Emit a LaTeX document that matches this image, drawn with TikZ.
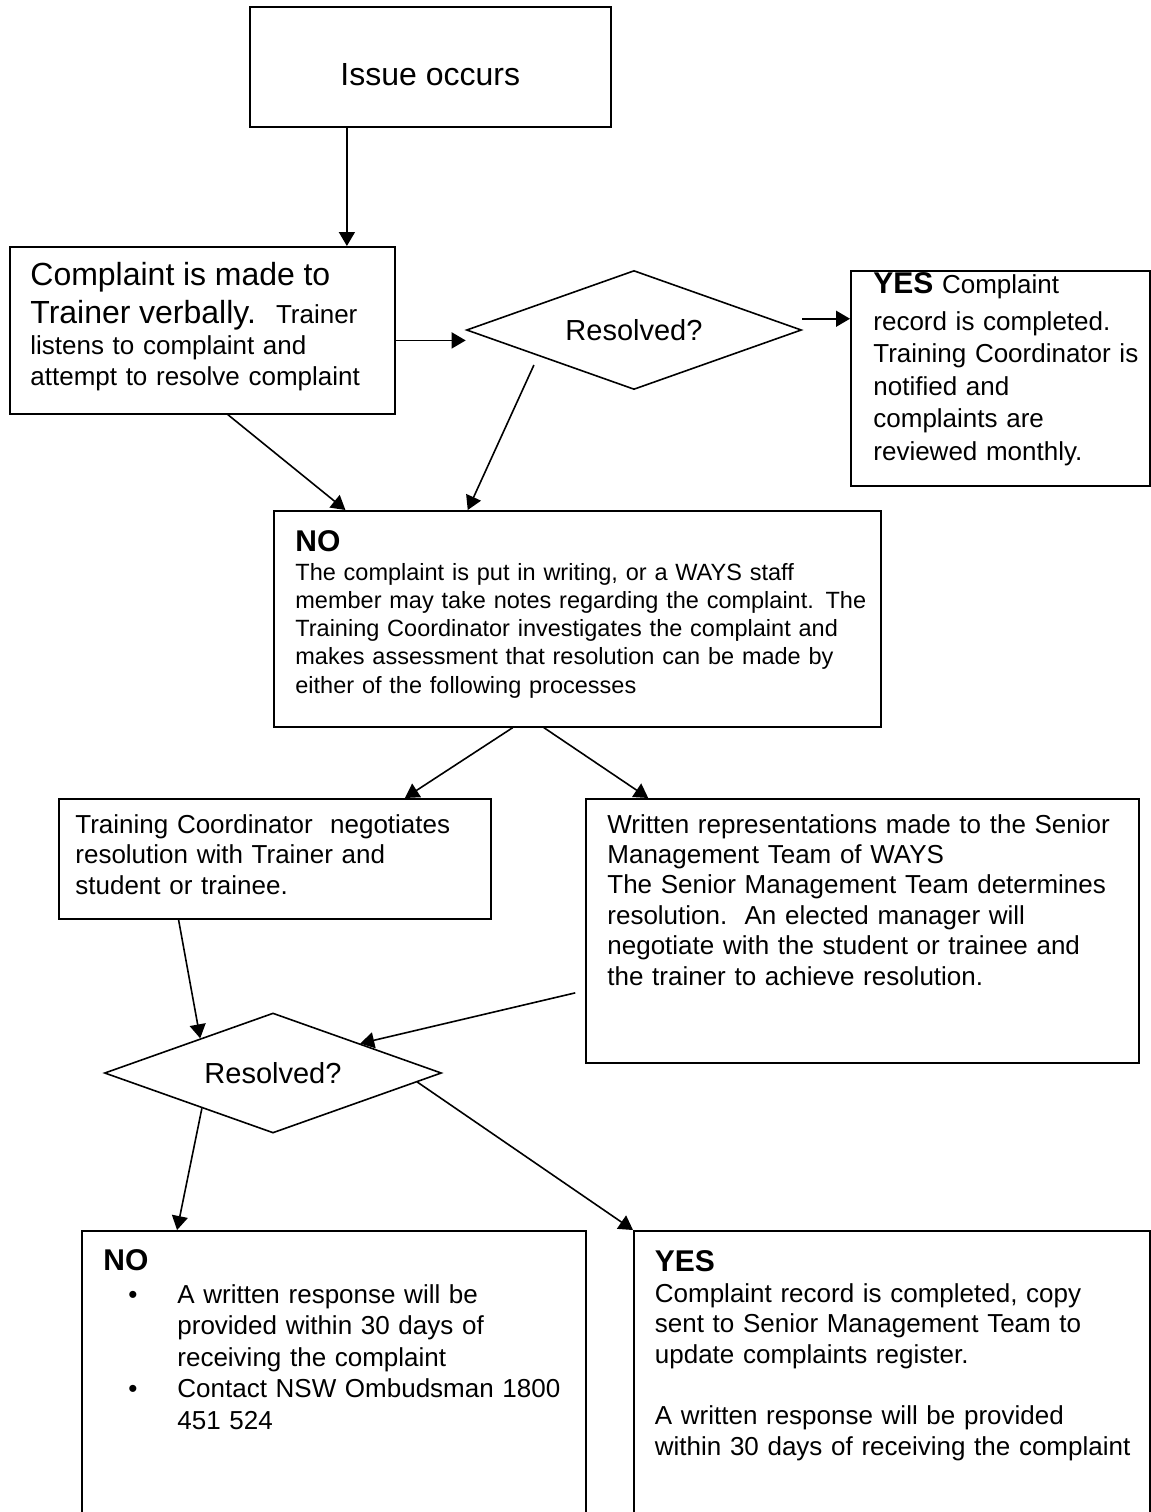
\documentclass[tikz,border=0pt]{standalone}
\usepackage{fontspec}
\setmainfont{Liberation Sans}
\usetikzlibrary{calc,shapes.geometric,arrows.meta}

\begin{document}
\begin{tikzpicture}[%
    x=0.5pt, y=-0.5pt,
    every node/.style={inner sep=0pt},
    box/.style={draw, line width=0.8pt, anchor=north west},
    choice/.style={draw, line width=0.8pt, diamond, aspect=2.8,
      font=\fontsize{14.5}{17}\selectfont},
    txt/.style={anchor=base west, align=left, text width=#1,
      font=\fontsize{13}{15.5}\selectfont},
    flow/.style={line width=0.8pt, -{Triangle[length=7pt,width=8pt]}}]
  \useasboundingbox (0,0) rectangle (1151,1512);
  \clip (0,0) rectangle (1151,1512);

  \node[box, minimum width=180.5pt, minimum height=60pt, text height=18.5pt,
    font=\fontsize{16}{19}\selectfont] (issue) at (249,6) {Issue occurs};

  \node[box, minimum width=192.5pt, minimum height=83.5pt] (complaint) at (9,246) {};
  \node[txt=220pt] (complaint-text) at ($(complaint.north west)+(21,39)$)
    {{\fontsize{16}{19}\selectfont Complaint is made to}\\[3.5pt]
     {\fontsize{16}{19}\selectfont Trainer verbally.}\hspace{10pt}Trainer\\
     listens to complaint and\\
     attempt to resolve complaint};

  \node[choice, minimum width=167.5pt, minimum height=59.5pt] (res1) at (634,330) {Resolved?};

  \node[box, minimum width=149.5pt, minimum height=107.5pt] (yes1) at (850,270) {};
  \node[txt=200pt, font=\fontsize{13}{16.25}\selectfont] (yes1-text) at ($(yes1.north west)+(23,23)$)
    {{\fontsize{15}{17}\selectfont\bfseries YES} Complaint\\[2.25pt]
     record is completed.\\
     Training Coordinator is\\
     notified and\\
     complaints are\\
     reviewed monthly.};

  \node[box, minimum width=303.5pt, minimum height=108pt] (no1) at (273,510) {};
  \node[txt=320pt, font=\fontsize{11.75}{14.1}\selectfont] (no1-text) at ($(no1.north west)+(22,41)$)
    {{\fontsize{15}{17}\selectfont\bfseries NO}\\[0.5pt]
     The complaint is put in writing, or a WAYS staff\\
     member may take notes regarding the complaint. The\\
     Training Coordinator investigates the complaint and\\
     makes assessment that resolution can be made by\\
     either of the following processes};

  \node[box, minimum width=216pt, minimum height=60pt] (coord) at (58,798) {};
  \node[txt=240pt, font=\fontsize{13}{15.4}\selectfont] (coord-text) at ($(coord.north west)+(17,35)$)
    {Training Coordinator\ \ negotiates\\
     resolution with Trainer and\\
     student or trainee.};

  \node[box, minimum width=276.5pt, minimum height=132pt] (smt) at (585,798) {};
  \node[txt=300pt, font=\fontsize{13}{15.2}\selectfont] (smt-text) at ($(smt.north west)+(22,35)$)
    {Written representations made to the Senior\\
     Management Team of WAYS\\
     The Senior Management Team determines\\
     resolution.\ \ An elected manager will\\
     negotiate with the student or trainee and\\
     the trainer to achieve resolution.};

  \node[choice, minimum width=168.5pt, minimum height=60pt] (res2) at (273,1073) {Resolved?};

  \node[box, minimum width=252pt, minimum height=150pt] (no2) at (81,1230) {};
  \node[txt=280pt, font=\fontsize{13}{15.75}\selectfont] (no2-text) at ($(no2.north west)+(22,40)$)
    {{\fontsize{15}{17}\selectfont\bfseries NO}\\[0.75pt]
     \hspace*{12.5pt}\makebox[24.5pt][l]{\textbullet}A written response will be\\
     \hspace*{37pt}provided within 30 days of\\
     \hspace*{37pt}receiving the complaint\\
     \hspace*{12.5pt}\makebox[24.5pt][l]{\textbullet}Contact NSW Ombudsman 1800\\
     \hspace*{37pt}451 524};

  \node[box, minimum width=258pt, minimum height=150pt] (yes2) at (633,1230) {};
  \node[txt=280pt, font=\fontsize{13}{15.3}\selectfont] (yes2-text) at ($(yes2.north west)+(21.5,41)$)
    {{\fontsize{15}{17}\selectfont\bfseries YES}\\[0.2pt]
     Complaint record is completed, copy\\
     sent to Senior Management Team to\\
     update complaints register.\\[15.3pt]
     A written response will be provided\\
     within 30 days of receiving the complaint};

  \coordinate (c1) at ($(issue.south west)!.27!(issue.south east)$);
  \coordinate (c2) at ($(complaint.north east)!.56!(complaint.south east)$);
  \coordinate (c3) at ($(yes1.north west)!.225!(yes1.south west)$);
  \draw[flow] (c1) -- (c1 |- complaint.north);
  \draw[flow] (c2) -- (c2 -| res1.west);
  \draw[flow] (c3 -| res1.east) -- (c3);
  \draw[flow] ($(complaint.south west)!.566!(complaint.south east)$) -- ($(no1.north west)!.119!(no1.north east)$);
  \draw[flow, shorten <=5pt] ($(res1.south)!.57!(res1.west)$) -- ($(no1.north west)!.32!(no1.north east)$);
  \draw[flow] ($(no1.south west)!.394!(no1.south east)$) -- ($(coord.north west)!.80!(coord.north east)$);
  \draw[flow] ($(no1.south west)!.445!(no1.south east)$) -- ($(smt.north west)!.114!(smt.north east)$);
  \draw[flow] ($(coord.south west)!.278!(coord.south east)$) -- ($(res2.north)!.43!(res2.west)$);
  \draw[flow, shorten <=5pt] ($(smt.north west)!.725!(smt.south west)$) -- ($(res2.north)!.515!(res2.east)$);
  \draw[flow] ($(res2.south)!.42!(res2.west)$) -- ($(no2.north west)!.19!(no2.north east)$);
  \draw[flow] ($(res2.east)!.148!(res2.south)$) -- (yes2.north west);
\end{tikzpicture}
\end{document}
